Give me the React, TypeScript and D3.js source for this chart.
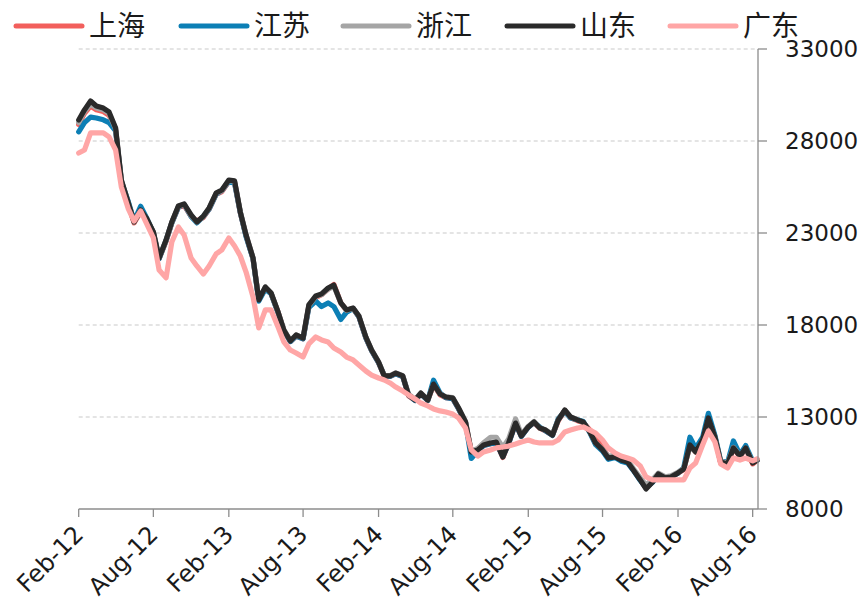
import React from 'react';
import * as d3 from 'd3';

const seriesNames = ['上海', '江苏', '浙江', '山东', '广东'];
const seriesColors = ['#f25f5c', '#0c7fb5', '#a5a5a5', '#2a2a2a', '#ffa6a6'];

const shanghai = [
  28900, 29500, 29900, 29700, 29600, 29400, 28600, 25800, 24550, 23550,
  24150, 23750, 23000, 21600, 22550, 23550, 24400, 24500, 23900, 23650,
  23850, 24300, 25100, 25250, 25800, 25750, 24100, 22850, 21600, 19400,
  20000, 19700, 18700, 17700, 17100, 17400, 17250, 19000, 19500, 19650,
  19950, 20200, 19200, 18800, 18900, 18450, 17300, 16600, 15950, 15200,
  15200, 15350, 15200, 14150, 13900, 14250, 13900, 14750, 14200, 14050,
  14000, 13450, 12700, 11100, 11200, 11450, 11550, 11600, 10800, 11550,
  12650, 11950, 12450, 12700, 12400, 12250, 12000, 12800, 13350, 12950,
  12800, 12700, 12300, 12000, 11400, 10800, 10850, 10650, 10550, 10150,
  9600, 9150, 9500, 9900, 9700, 9750, 9950, 10150, 11450, 11100,
  11700, 12900, 11900, 10500, 10400, 11300, 10850, 11300, 10450, 10650,
];

const jiangsu = [
  28500, 29000, 29300, 29250, 29150, 29000, 28550, 25800, 24700, 23650,
  24450, 23850, 23000, 21600, 22600, 23550, 24400, 24550, 23900, 23550,
  23900, 24300, 25100, 25300, 25800, 25700, 24100, 22800, 21600, 19300,
  19950, 19700, 18650, 17700, 17100, 17400, 17250, 18950, 19300, 19000,
  19200, 19000, 18300, 18700, 18900, 18450, 17300, 16600, 15950, 15250,
  15200, 15350, 15200, 14200, 13900, 14250, 13900, 15000, 14300, 14050,
  14000, 13450, 12700, 10750, 11150, 11450, 11550, 11600, 10850, 11550,
  12650, 11950, 12450, 12700, 12450, 12250, 12000, 12900, 13300, 12950,
  12850, 12750, 12150, 11500, 11150, 10700, 10800, 10600, 10500, 10100,
  9550, 9150, 9450, 9850, 9700, 9750, 9950, 10250, 11900, 11300,
  11900, 13200, 12000, 10600, 10550, 11700, 10950, 11450, 10600, 10650,
];

const zhejiang = [
  29000, 29600, 30000, 29800, 29700, 29500, 28650, 25850, 24600, 23600,
  24200, 23800, 23050, 21650, 22600, 23580, 24450, 24550, 23950, 23600,
  23900, 24350, 25150, 25300, 25850, 25800, 24150, 22900, 21650, 19400,
  20050, 19750, 18700, 17750, 17150, 17450, 17300, 19050, 19550, 19650,
  19950, 20100, 19200, 18800, 18900, 18500, 17350, 16650, 16000, 15250,
  15250, 15400, 15250, 14250, 13950, 14300, 13950, 14750, 14250, 14100,
  14050, 13500, 12750, 11150, 11300, 11600, 11900, 11900, 11350, 11800,
  12900, 12050, 12500, 12750, 12400, 12300, 12050, 12850, 13350, 13000,
  12850, 12700, 12200, 11600, 11250, 10850, 10950, 10800, 10650, 10200,
  9700, 9300, 9600, 9950, 9750, 9800, 10000, 10200, 11400, 11100,
  11700, 12850, 11900, 10600, 10500, 11350, 10900, 11300, 10550, 10700,
];

const shandong = [
  29140, 29690, 30170, 29900, 29790, 29580, 28710, 25880, 24630, 23600,
  24250, 23820, 23060, 21640, 22620, 23600, 24470, 24580, 23980, 23600,
  23920, 24360, 25170, 25340, 25880, 25830, 24140, 22890, 21640, 19360,
  20070, 19740, 18710, 17730, 17130, 17460, 17290, 19090, 19580, 19690,
  20010, 20170, 19200, 18820, 18920, 18490, 17350, 16640, 15990, 15230,
  15230, 15390, 15230, 14200, 13920, 14300, 13920, 14790, 14250, 14090,
  14030, 13490, 12730, 11100, 11210, 11480, 11590, 11640, 10830, 11590,
  12670, 11970, 12460, 12730, 12400, 12290, 12020, 12840, 13380, 13000,
  12840, 12730, 12190, 11590, 11210, 10770, 10830, 10660, 10550, 10120,
  9580, 9090, 9470, 9900, 9690, 9740, 9960, 10170, 11480, 11100,
  11750, 12950, 11910, 10550, 10450, 11320, 10880, 11320, 10500, 10660,
];

const guangdong = [
  27350, 27510, 28440, 28440, 28440, 28220, 27510, 25500, 24310, 23650,
  24200, 23540, 22730, 20990, 20560, 22510, 23330, 22890, 21640, 21210,
  20770, 21210, 21860, 22080, 22730, 22290, 21750, 20880, 19520, 17840,
  18820, 18820, 17890, 17080, 16640, 16480, 16260, 16970, 17350, 17190,
  17080, 16750, 16530, 16260, 16100, 15830, 15500, 15280, 15120, 15010,
  14850, 14630, 14410, 14200, 13980, 13760, 13600, 13440, 13330, 13270,
  13160, 12950, 12400, 11210, 10880, 11100, 11210, 11320, 11370, 11420,
  11530, 11640, 11750, 11640, 11590, 11590, 11590, 11750, 12190, 12290,
  12400, 12460, 12290, 12130, 11750, 11320, 11040, 10880, 10770, 10660,
  10340, 9740, 9580, 9580, 9580, 9580, 9580, 9580, 10230, 10500,
  11480, 12240, 11640, 10450, 10230, 10770, 10660, 10770, 10610, 10720,
];

const xTickLabels = [
  'Feb-12', 'Aug-12', 'Feb-13', 'Aug-13', 'Feb-14',
  'Aug-14', 'Feb-15', 'Aug-15', 'Feb-16', 'Aug-16',
];
const yTicks = [8000, 13000, 18000, 23000, 28000, 33000];

// observation dates: 1st and 15th of each month, Feb 2012 .. Aug 2016
const dates: Date[] = (() => {
  const out: Date[] = [];
  for (let m = 0; m < 54; m++) {
    out.push(new Date(2012, 1 + m, 1));
    out.push(new Date(2012, 1 + m, 15));
  }
  out.push(new Date(2016, 7, 1));
  out.push(new Date(2016, 7, 12));
  return out;
})();

const allSeries = [shanghai, jiangsu, zhejiang, shandong, guangdong];
const parseTick = d3.timeParse('%b-%y');

export default function App() {
  const W = 868;
  const H = 606;
  const left = 78.7;
  const right = 758;
  const top = 49;
  const bottom = 509;

  const x = d3
    .scaleTime()
    .domain([new Date(2012, 1, 1), new Date(2016, 7, 14)])
    .range([left, right]);
  const y = d3.scaleLinear().domain([8000, 33000]).range([bottom, top]);

  const line = d3
    .line<number>()
    .x((_, i) => x(dates[i]))
    .y((d) => y(d));

  const font = '"DejaVu Sans", sans-serif';
  const cjk = '"Noto Sans CJK SC", sans-serif';

  const legendLineX = [16, 181, 343, 507, 670];

  return (
    <svg
      width={W}
      height={H}
      style={{ position: 'absolute', left: 0, top: 0, background: '#fff' }}
    >
      <rect width={W} height={H} fill="#fff" />
      {/* gridlines */}
      {yTicks
        .filter((t) => t > 8000)
        .map((t) => (
          <line
            key={'g' + t}
            x1={left}
            x2={right}
            y1={y(t)}
            y2={y(t)}
            stroke="#c9c9c9"
            strokeWidth={1}
            strokeDasharray="4,3"
          />
        ))}
      {/* series */}
      {allSeries.map((s, k) => (
        <path
          key={seriesNames[k]}
          d={line(s) || ''}
          fill="none"
          stroke={seriesColors[k]}
          strokeWidth={5.2}
          strokeLinejoin="round"
          strokeLinecap="round"
        />
      ))}
      {/* right axis */}
      <line x1={right} x2={right} y1={top} y2={bottom} stroke="#8c8c8c" strokeWidth={1.3} />
      {yTicks.map((t) => (
        <g key={'y' + t}>
          <line x1={right} x2={right + 9} y1={y(t)} y2={y(t)} stroke="#8c8c8c" strokeWidth={1.3} />
          <text
            x={785}
            y={y(t)}
            dy="0.36em"
            fontFamily={font}
            fontSize={23}
            fill="#1a1a1a"
          >
            {t}
          </text>
        </g>
      ))}
      {/* x axis */}
      <line x1={left} x2={right} y1={bottom} y2={bottom} stroke="#8c8c8c" strokeWidth={1.3} />
      {xTickLabels.map((lab) => {
        const d = parseTick(lab) as Date;
        const tx = x(d);
        return (
          <g key={lab}>
            <line x1={tx} x2={tx} y1={bottom} y2={bottom + 8} stroke="#8c8c8c" strokeWidth={1.3} />
            <text
              transform={`translate(${tx + 6},${bottom + 27}) rotate(-45)`}
              textAnchor="end"
              fontFamily={font}
              fontSize={24}
              fill="#1a1a1a"
            >
              {lab}
            </text>
          </g>
        );
      })}
      {/* legend */}
      {seriesNames.map((n, k) => (
        <g key={'l' + n}>
          <line
            x1={legendLineX[k]}
            x2={legendLineX[k] + 66}
            y1={26}
            y2={26}
            stroke={seriesColors[k]}
            strokeWidth={5}
            strokeLinecap="round"
          />
          <text
            x={legendLineX[k] + 73}
            y={26}
            dy="0.36em"
            fontFamily={cjk}
            fontSize={28}
            fill="#1a1a1a"
          >
            {n}
          </text>
        </g>
      ))}
    </svg>
  );
}
